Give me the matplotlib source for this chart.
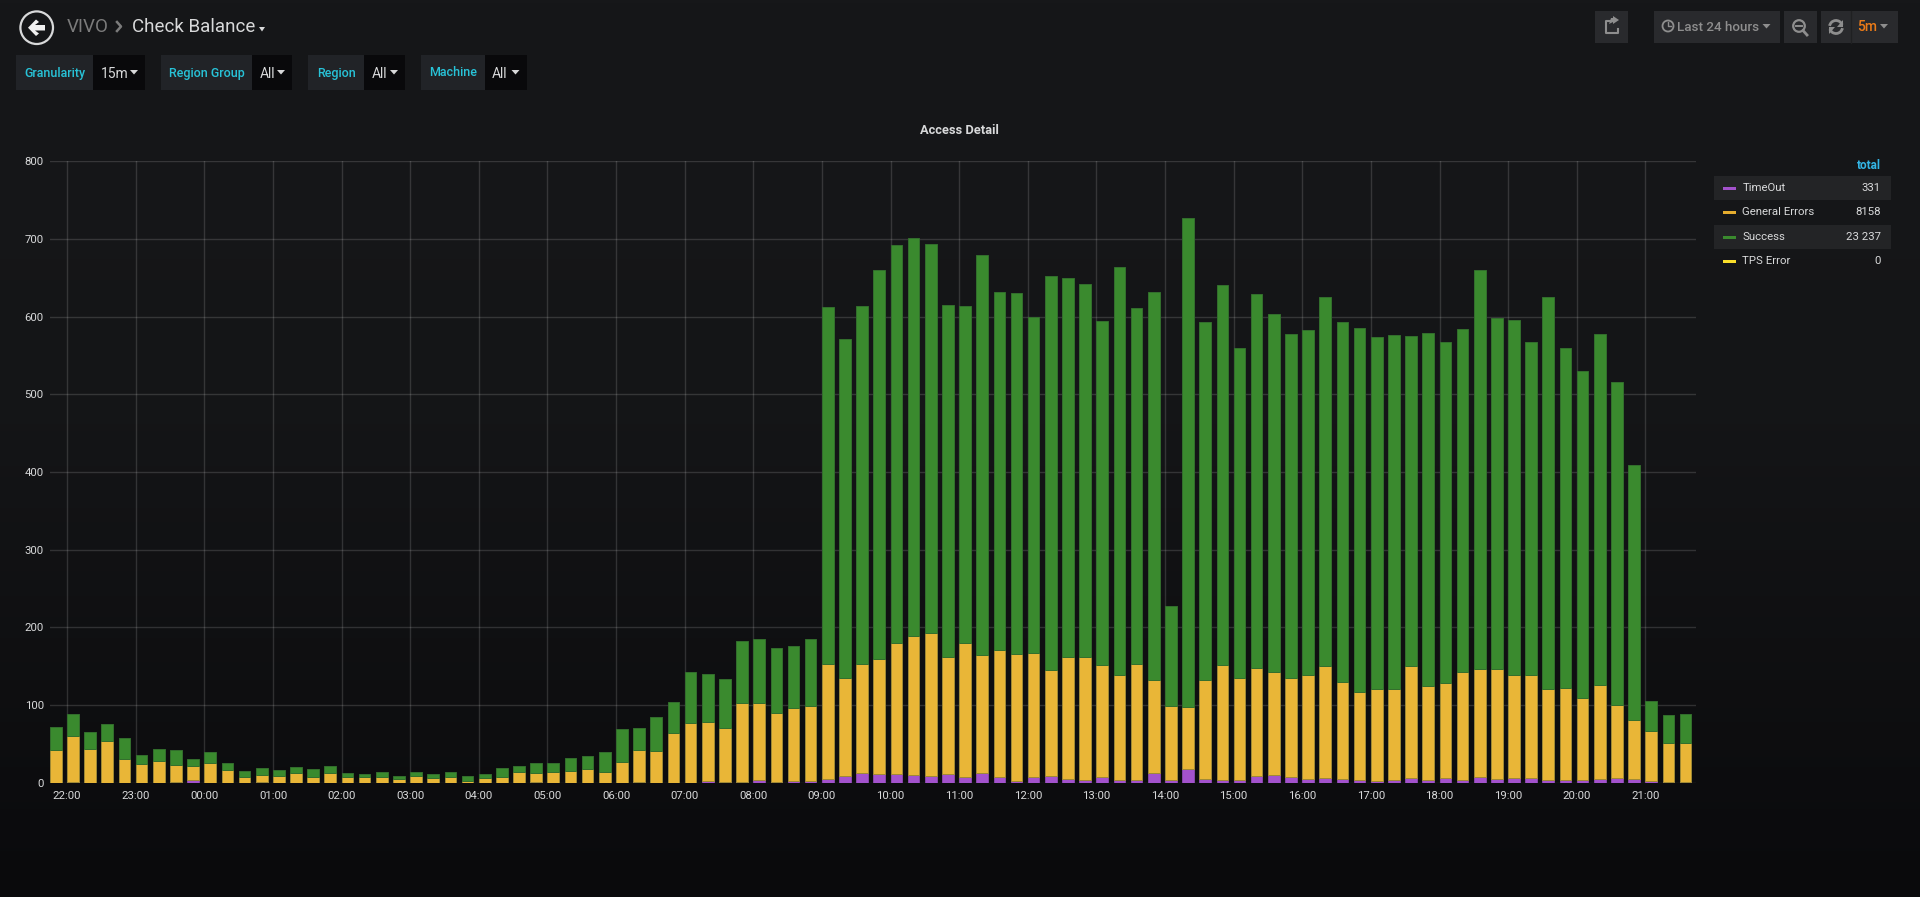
import numpy as np
import matplotlib
matplotlib.use('Agg')
import matplotlib.pyplot as plt
from matplotlib.patches import Rectangle, Circle, Arc, Polygon

plt.rcParams['font.family'] = ['Roboto', 'DejaVu Sans']

W, H = 1920, 897

hour_labels = ['22:00', '23:00', '00:00', '01:00', '02:00', '03:00', '04:00', '05:00',
               '06:00', '07:00', '08:00', '09:00', '10:00', '11:00', '12:00', '13:00',
               '14:00', '15:00', '16:00', '17:00', '18:00', '19:00', '20:00', '21:00']
y_ticks = [0, 100, 200, 300, 400, 500, 600, 700, 800]

# one value per 15 minutes, first bar is 21:45
timeout = [0, 1, 0, 0, 0, 0, 0, 1, 3, 0, 0, 0, 1, 0, 0, 0,
           0, 0, 0, 0, 0, 0, 0, 0, 0, 0, 0, 0, 1, 0, 0, 0,
           0, 0, 1, 0, 0, 0, 2, 1, 1, 3, 1, 2, 2, 5, 8, 12,
           11, 11, 10, 9, 11, 7, 12, 7, 2, 7, 8, 5, 3, 7, 3, 4,
           12, 3, 17, 5, 4, 3, 8, 10, 7, 5, 6, 5, 3, 2, 3, 6,
           3, 6, 4, 7, 5, 6, 6, 4, 3, 4, 5, 6, 5, 2, 1, 1]
general = [42, 59, 43, 54, 30, 24, 28, 22, 18, 25, 16, 7, 9, 9, 12, 7,
           12, 7, 7, 7, 5, 9, 6, 7, 2, 6, 7, 14, 11, 14, 15, 18,
           14, 27, 41, 41, 64, 77, 76, 70, 102, 100, 89, 94, 97, 148, 127, 141,
           148, 169, 179, 184, 151, 173, 153, 164, 164, 160, 137, 157, 159, 145, 136, 149,
           120, 96, 80, 127, 148, 132, 140, 133, 128, 134, 144, 125, 114, 119, 118, 144,
           122, 122, 139, 140, 142, 133, 133, 117, 119, 105, 121, 94, 76, 64, 50, 50]
success = [30, 29, 22, 22, 27, 12, 16, 19, 9, 15, 10, 8, 9, 7, 8, 10,
           10, 5, 4, 7, 3, 5, 5, 7, 6, 5, 12, 8, 14, 11, 17, 16,
           26, 42, 29, 44, 40, 65, 62, 63, 79, 82, 83, 80, 86, 459, 436, 461,
           501, 512, 512, 501, 453, 434, 515, 461, 464, 433, 507, 488, 480, 442, 525, 458,
           500, 128, 630, 461, 489, 424, 481, 461, 443, 444, 475, 463, 469, 453, 456, 425,
           454, 439, 441, 513, 451, 457, 428, 504, 437, 421, 452, 416, 328, 39, 36, 38]

legend_names = ['TimeOut', 'General Errors', 'Success', 'TPS Error']
legend_totals = ['331', '8158', '23 237', '0']
legend_colors = ['#a352cc', '#e5ac2e', '#3a8a2e', '#fade2a']

BLUE = '#33b5e5'
CYAN = '#28c3d8'
TEXT = '#d8d9da'

fig = plt.figure(figsize=(W / 100, H / 100), dpi=100)

# page background, dark gradient
bg = fig.add_axes([0, 0, 1, 1], zorder=0)
grad = np.interp(np.linspace(0, 1, 256), [0, 0.45, 1], [0, 0.12, 1])[:, None, None]
top = np.array([0x16, 0x17, 0x19]) / 255
bottom = np.array([0x0a, 0x0a, 0x0c]) / 255
bg.imshow(top + (bottom - top) * grad, aspect='auto', extent=[0, W, H, 0])
bg.set_xlim(0, W)
bg.set_ylim(H, 0)
bg.axis('off')

# the graph
ax = fig.add_axes([50 / W, 1 - 782.7 / H, (1696 - 50) / W, (782.7 - 161.3) / H], zorder=1)
ax.patch.set_alpha(0)
x = np.arange(len(success))
t = np.array(timeout)
g = np.array(general)
s = np.array(success)
bar_w = 0.68
ax.bar(x, t, bar_w, align='edge', color='#a352cc', edgecolor='#8f4ab3', linewidth=0.6, zorder=3)
ax.bar(x, g, bar_w, bottom=t, align='edge', color='#e9b637', edgecolor='#a08a35', linewidth=0.7, zorder=3)
ax.bar(x, s, bar_w, bottom=t + g, align='edge', color='#3a8a2e', edgecolor='#336f2d', linewidth=0.7, zorder=3)
ax.set_xlim(0, 95.95)
ax.set_ylim(0, 800)
ax.set_xticks(np.arange(1, 96, 4))
ax.set_xticklabels(hour_labels)
ax.set_yticks(y_ticks)
ax.grid(True, color='#ffffff', alpha=0.14, linewidth=1, zorder=0)
ax.set_axisbelow(True)
ax.tick_params(length=0, labelsize=8.2, labelcolor=TEXT)
ax.tick_params(axis='x', pad=6)
ax.tick_params(axis='y', pad=4.5)
for sp in ax.spines.values():
    sp.set_visible(False)

# overlay in pixel coordinates for the dashboard chrome
ui = fig.add_axes([0, 0, 1, 1], zorder=2)
ui.set_xlim(0, W)
ui.set_ylim(H, 0)
ui.axis('off')
ui.patch.set_alpha(0)


def box(x0, x1, y0, y1, color):
    ui.add_patch(Rectangle((x0, y0), x1 - x0, y1 - y0, facecolor=color, edgecolor='none'))


def caret(cx, cy, color=TEXT, size=4):
    ui.add_patch(Polygon([(cx - size, cy - 2), (cx + size, cy - 2), (cx, cy + 2.5)],
                         facecolor=color, edgecolor='none'))


def label(px, py, txt, color=TEXT, size=8.5, ha='left', weight='normal'):
    ui.text(px, py, txt, color=color, fontsize=size, ha=ha, va='center', fontweight=weight)


ui.text(959.5, 130, 'Access Detail', color=TEXT, fontsize=9.3, fontweight='bold', ha='center', va='center')

# back button and breadcrumb
ui.add_patch(Circle((36.7, 27.7), 16.3, facecolor='none', edgecolor=TEXT, linewidth=1.6))
ui.add_patch(Polygon([(28, 27.7), (36, 19.5), (39, 22), (35, 25), (45, 25), (45, 30.5), (35, 30.5), (39, 33.5), (36, 36)],
                     facecolor='#f0f0f0', edgecolor='none'))
label(67, 27, 'VIVO', color='#7b7b7b', size=13.5)
ui.plot([117, 121, 117], [22, 26.5, 31], color='#7b7b7b', linewidth=1.8)
label(132, 27, 'Check Balance', color=TEXT, size=13.5)
caret(262, 29, size=3)

# template variables
variables = [('Granularity', '15m', 16, 93, 145), ('Region Group', 'All', 161, 252, 292),
             ('Region', 'All', 308, 364, 405), ('Machine', 'All', 421, 484.5, 526.5)]
for name, val, x0, x1, x2 in variables:
    box(x0, x1, 55, 90, '#212327')
    box(x1, x2, 55, 90, '#09090b')
    label((x0 + x1) / 2, 73, name, color=CYAN, size=9, ha='center', weight='medium')
    label(x1 + 7.5, 73.5, val, size=10)
    caret(x2 - 11, 72)

# top right buttons
BTN = '#292a2d'
GREY = '#8e8e8e'
box(1595, 1628, 11, 43, BTN)
box(1654, 1780, 11, 43, BTN)
box(1784, 1817, 11, 43, BTN)
box(1821, 1898, 11, 43, BTN)
ui.plot([1851, 1851], [11, 43], color='#1f2022', linewidth=1)
ui.plot([1611, 1606, 1606, 1618, 1618], [21, 21, 33, 33, 29], color=GREY, linewidth=1.5)
ui.add_patch(Polygon([(1619, 20), (1613, 24), (1613, 22), (1609, 24), (1611, 18), (1613, 18), (1613, 16)],
                     facecolor=GREY, edgecolor='none'))
ui.add_patch(Circle((1668, 26), 5.5, facecolor='none', edgecolor=GREY, linewidth=1.3))
ui.plot([1668, 1668, 1671], [22.5, 26.5, 26.5], color=GREY, linewidth=1)
label(1677, 27.2, 'Last 24 hours', color=GREY, size=9.6, weight='medium')
caret(1766.5, 26, color=GREY)
ui.add_patch(Circle((1799, 26), 5.8, facecolor='none', edgecolor=GREY, linewidth=1.6))
ui.plot([1796, 1802], [26, 26], color=GREY, linewidth=1.4)
ui.plot([1803, 1807], [30.5, 35], color=GREY, linewidth=2)
ui.add_patch(Arc((1836, 27), 13, 13, theta1=190, theta2=340, color=GREY, linewidth=2))
ui.add_patch(Arc((1836, 27), 13, 13, theta1=10, theta2=160, color=GREY, linewidth=2))
ui.add_patch(Polygon([(1843, 20), (1843, 27), (1837, 27)], facecolor=GREY, edgecolor='none'))
ui.add_patch(Polygon([(1829, 34), (1829, 27), (1835, 27)], facecolor=GREY, edgecolor='none'))
label(1857, 27.2, '5m', color='#eb7b18', size=10, weight='medium')
caret(1884, 26, color=GREY)

# legend table
label(1881, 165.5, 'total', color=BLUE, size=8.5, ha='right', weight='bold')
row_y = [188, 212, 237, 261]
for i, yy in enumerate(row_y):
    if i % 2 == 0:
        box(1714, 1891, yy - 12, yy + 12, '#232426')
    ui.add_patch(Rectangle((1723, yy - 1.2), 13, 3.4, facecolor=legend_colors[i], edgecolor='none'))
    label(1742.5, yy, legend_names[i], size=8.2)
    label(1881, yy, legend_totals[i], size=8.2, ha='right')

fig.savefig('out.png', dpi=100, facecolor='#161719')
